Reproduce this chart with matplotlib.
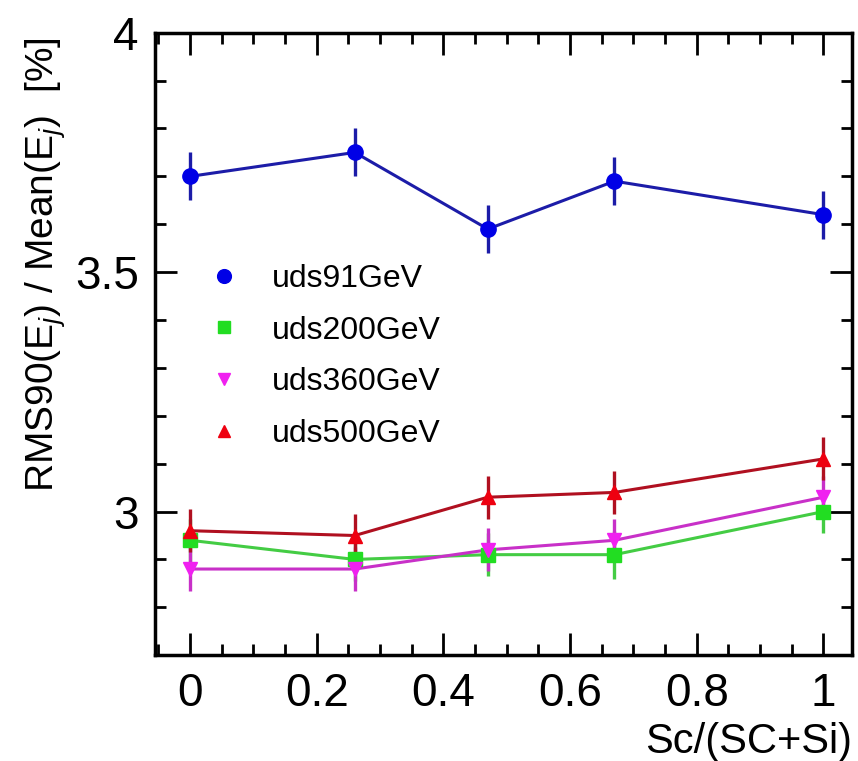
import numpy as np
import matplotlib
matplotlib.use("Agg")
import matplotlib.pyplot as plt
from matplotlib.lines import Line2D
from matplotlib.ticker import MultipleLocator

plt.rcParams['font.family'] = ['Liberation Sans', 'DejaVu Sans']
plt.rcParams['mathtext.fontset'] = 'custom'
plt.rcParams['mathtext.rm'] = 'Liberation Sans'
plt.rcParams['mathtext.it'] = 'Liberation Sans:italic'

# scintillator fraction
frac = [0.0, 0.26, 0.47, 0.67, 1.0]

# RMS90/Mean [%] for each jet energy
uds91 = [3.70, 3.75, 3.59, 3.69, 3.62]
uds91_err = [0.05, 0.05, 0.05, 0.05, 0.05]
uds200 = [2.94, 2.90, 2.91, 2.91, 3.00]
uds200_err = [0.045, 0.045, 0.045, 0.05, 0.045]
uds360 = [2.88, 2.88, 2.92, 2.94, 3.03]
uds360_err = [0.045, 0.045, 0.045, 0.045, 0.045]
uds500 = [2.96, 2.95, 3.03, 3.04, 3.11]
uds500_err = [0.045, 0.045, 0.045, 0.045, 0.045]

labels = ["uds91GeV", "uds200GeV", "uds360GeV", "uds500GeV"]

fig = plt.figure(figsize=(8.58, 7.61), dpi=100)
ax = fig.add_axes([0.181, 0.139, 0.812, 0.818])

series = [
    (uds91, uds91_err, 'o', '#0000e6', '#1c1ca8', 11),
    (uds200, uds200_err, 's', '#22dd22', '#44cc44', 10),
    (uds360, uds360_err, 'v', '#f020f0', '#c830c8', 10),
    (uds500, uds500_err, '^', '#ee0010', '#b01020', 10),
]

for y, e, m, mc, lc, ms in series:
    ax.plot(frac, y, '-', color=lc, lw=2.2, zorder=2)
    ax.errorbar(frac, y, yerr=e, fmt=m, color=mc, ecolor=lc, elinewidth=2.4,
                capsize=0, ms=ms, mec=mc, zorder=3)

ax.set_xlim(-0.055, 1.045)
ax.set_ylim(2.7, 4.0)
ax.xaxis.set_major_locator(MultipleLocator(0.2))
ax.xaxis.set_minor_locator(MultipleLocator(0.05))
ax.yaxis.set_major_locator(MultipleLocator(0.5))
ax.yaxis.set_minor_locator(MultipleLocator(0.1))
ax.set_xticks([0, 0.2, 0.4, 0.6, 0.8, 1.0])
ax.set_xticklabels(["0", "0.2", "0.4", "0.6", "0.8", "1"])
ax.set_yticks([3, 3.5, 4])
ax.set_yticklabels(["3", "3.5", "4"])

ax.tick_params(which='both', direction='in', top=True, right=True, width=2)
ax.tick_params(which='major', length=16, labelsize=33, pad=12)
ax.tick_params(which='minor', length=8)
for s in ax.spines.values():
    s.set_linewidth(2.5)

ax.set_ylabel(r'RMS90(E$_j$) / Mean(E$_j$)  [%]', fontsize=28)
ax.yaxis.set_label_coords(-0.125, 0.627)
fig.text(0.993, 0.025, "Sc/(SC+Si)", fontsize=30, ha='right', va='center')

handles = [Line2D([], [], ls='none', marker=m, color=mc, ms=ms * 0.9)
           for _, _, m, mc, _, ms in series]
ax.legend(handles, labels, loc='upper left', bbox_to_anchor=(0.03, 0.675),
          frameon=False, fontsize=23, labelspacing=0.68, handletextpad=0.9,
          handlelength=1.2)

fig.savefig("out.png", dpi=100)
